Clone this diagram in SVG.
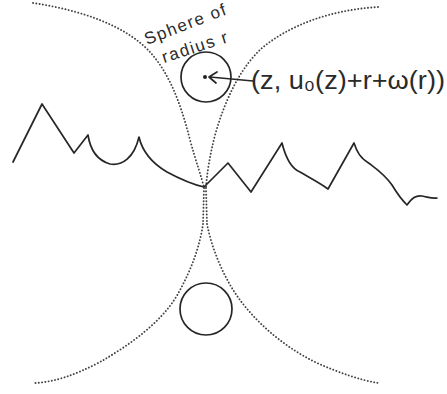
<svg xmlns="http://www.w3.org/2000/svg" width="447" height="394" viewBox="0 0 447 394">
<style>
.dot{fill:none;stroke:#444;stroke-width:1.9;stroke-dasharray:0.1 3.2;stroke-linecap:round}
.ink{fill:none;stroke:#262626;stroke-width:1.7;stroke-linejoin:round;stroke-linecap:round}
.txt{font-family:"Liberation Sans","DejaVu Sans",sans-serif;fill:#2a2a2a}
</style>
<rect width="447" height="394" fill="#ffffff"/>
<g id="envelope">
<path class="dot" d="M33,3 C80,10 125,25 150,52 C168,72 180,100 190,140 C196,162 202,178 204,188"/>
<path class="dot" d="M378,7 C330,10 290,25 262,48 C240,68 225,100 215,135 C210,155 207,172 206,188"/>
<path class="dot" d="M204,188 L203,224 M206,188 L207,224"/>
<path class="dot" d="M203,224 C200,245 192,268 180,290 C165,320 130,345 100,362 C75,375 55,382 35,383"/>
<path class="dot" d="M207,224 C212,250 225,280 240,300 C255,320 280,345 317,363 C340,373 360,380 378,383"/>
</g>
<g id="surface">
<path class="ink" d="M13,162 L42,104 L74,153 L88,135 C90,148 96,160 110,164 C122,166 134,158 139,137 C142,150 150,162 167,172 C180,179 195,185 204,187 L228,163 L251,192 L282,143 C285,155 290,168 300,172 C310,178 320,183 328,189 L354,143 C357,152 360,158 370,164 C378,170 385,175 392,185 C398,195 402,200 407,205 C412,198 416,195 422,196 C428,197 432,199 437,198"/>
</g>
<g id="sphere-top">
<circle class="ink" cx="206" cy="77" r="25"/>
<circle cx="205" cy="77" r="2" fill="#222"/>
</g>
<g id="sphere-bottom">
<circle class="ink" cx="206" cy="309" r="26"/>
</g>
<g id="connectors">
<path class="ink" d="M253,81 L210,77 M209,77 L217,72 M209,77 L216,83"/>
</g>
<g id="labels">
<text class="txt" font-size="17" transform="translate(147,45) rotate(-21)" textLength="86">Sphere of</text>
<text class="txt" font-size="17" transform="translate(164,63) rotate(-18)" textLength="68">radius r</text>
<text class="txt" x="251" y="89" font-size="26" textLength="194" lengthAdjust="spacingAndGlyphs">(z, u₀(z)+r+ω(r))</text>
</g>
</svg>
